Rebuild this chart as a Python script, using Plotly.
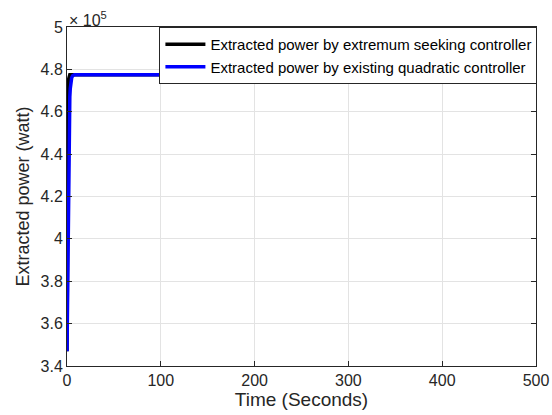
import plotly.graph_objects as go

# Time (s) and extracted power (W)
t_esc = [0, 0.2, 0.4, 0.6, 0.8, 1.0, 1.4, 1.8, 2.4, 3.0, 5.0, 100, 200, 300, 400, 500]
p_esc = [3.47e5, 3.85e5, 4.15e5, 4.38e5, 4.53e5, 4.63e5, 4.72e5, 4.755e5, 4.77e5, 4.775e5, 4.775e5,
         4.775e5, 4.775e5, 4.775e5, 4.775e5, 4.775e5]
t_quad = [0, 0.4, 0.8, 1.2, 1.6, 2.0, 2.5, 3.0, 3.5, 4.0, 5.0, 6.0, 8.0, 100, 200, 300, 400, 500]
p_quad = [3.47e5, 3.7e5, 3.95e5, 4.17e5, 4.35e5, 4.48e5, 4.6e5, 4.67e5, 4.71e5, 4.74e5, 4.76e5, 4.77e5,
          4.775e5, 4.775e5, 4.775e5, 4.775e5, 4.775e5, 4.775e5]

x_ticks = [0, 100, 200, 300, 400, 500]
y_ticks = [3.4e5, 3.6e5, 3.8e5, 4.0e5, 4.2e5, 4.4e5, 4.6e5, 4.8e5, 5.0e5]
y_labels = ["3.4", "3.6", "3.8", "4", "4.2", "4.4", "4.6", "4.8", "5"]

names = ["Extracted power by extremum seeking controller",
         "Extracted power by existing quadratic controller"]

fig = go.Figure()
fig.add_trace(go.Scatter(x=t_esc, y=p_esc, mode="lines", name=names[0],
                         line=dict(color="black", width=3.5)))
fig.add_trace(go.Scatter(x=t_quad, y=p_quad, mode="lines", name=names[1],
                         line=dict(color="#0000ff", width=3.5)))

font = "Liberation Sans, Arial, sans-serif"
axis_common = dict(showline=True, linecolor="#262626", linewidth=1, mirror="ticks",
                   ticks="inside", ticklen=5, tickcolor="#262626",
                   showgrid=True, gridcolor="#e3e3e3", gridwidth=1, zeroline=False,
                   tickfont=dict(family=font, size=16, color="#262626"))

fig.update_layout(
    width=552, height=415,
    margin=dict(l=67, r=16, t=27, b=49, autoexpand=False),
    paper_bgcolor="white", plot_bgcolor="white",
    font=dict(family=font, color="#262626"),
    xaxis=dict(range=[0, 500], tickvals=x_ticks,
               title=dict(text="Time (Seconds)", font=dict(family=font, size=19), standoff=3),
               **axis_common),
    yaxis=dict(range=[3.4e5, 5.0e5], tickvals=y_ticks, ticktext=y_labels,
               title=dict(text="Extracted power (watt)", font=dict(family=font, size=18), standoff=6),
               **axis_common),
    legend=dict(x=1.003, y=1.0, xanchor="right", yanchor="top",
                bgcolor="white", bordercolor="#262626", borderwidth=1,
                font=dict(family=font, size=15, color="black"),
                tracegroupgap=0, itemwidth=40),
    showlegend=True,
)
fig.add_annotation(xref="paper", yref="paper", x=0.0, y=1.0, xanchor="left", yanchor="bottom",
                   text="× 10<sup>5</sup>", showarrow=False,
                   font=dict(family=font, size=16, color="#262626"), xshift=0, yshift=-4)

fig.write_html("out.html")
